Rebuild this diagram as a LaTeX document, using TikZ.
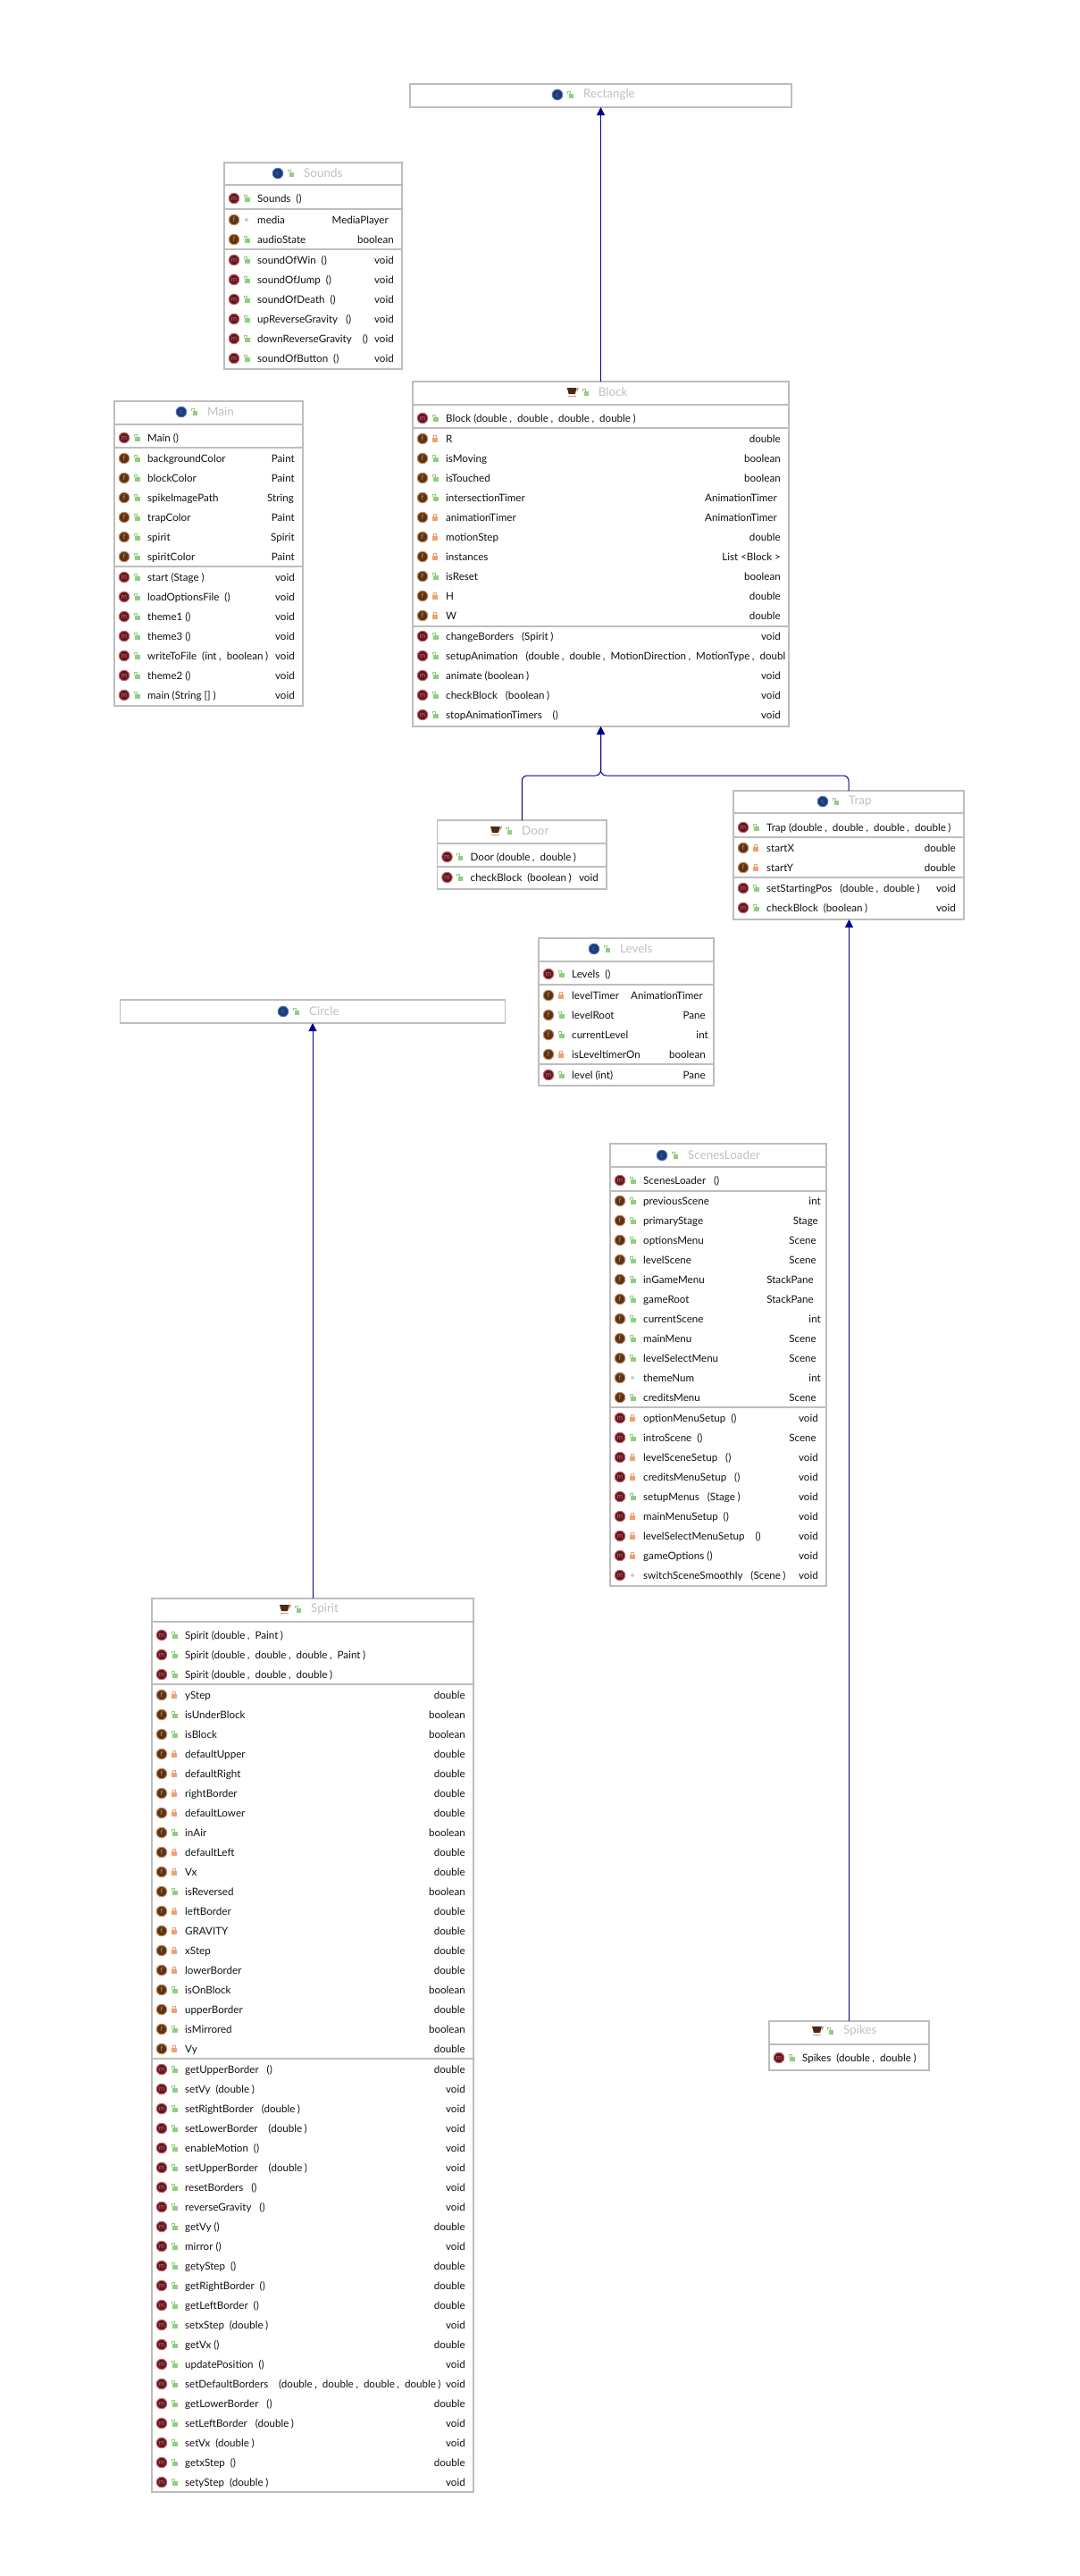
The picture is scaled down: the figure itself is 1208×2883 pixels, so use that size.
\documentclass[tikz,border=0pt]{standalone}
\usepackage{fontspec}
\setmainfont{Lato}
\usetikzlibrary{arrows.meta}
\definecolor{Frame}{HTML}{BDBDBD}
\definecolor{Title}{HTML}{BFBFC6}
\definecolor{Ink}{HTML}{111111}
\definecolor{Navy}{HTML}{000090}
\definecolor{MethodFill}{HTML}{5A1A22}
\definecolor{MethodRim}{HTML}{D0606A}
\definecolor{FieldFill}{HTML}{5A3418}
\definecolor{FieldRim}{HTML}{C98C58}
\definecolor{ClassFill}{HTML}{1C3A78}
\definecolor{ClassRim}{HTML}{4F74B8}
\definecolor{LockGreen}{HTML}{8FCF80}
\definecolor{LockOrange}{HTML}{F2A070}
\definecolor{CupBrown}{HTML}{4A2A14}
\definecolor{CupSaucer}{HTML}{E09060}
\tikzset{
  classbox/.style={draw=Frame,fill=white,line width=1.5pt,inner sep=0pt,outer sep=0pt,anchor=north west},
  sepline/.style={draw=Frame,line width=1.5pt},
  flow/.style={-{Triangle[length=9pt,width=9pt]},draw=Navy,line width=1pt,rounded corners=6pt},
  titletext/.style={text=Title,font=\fontsize{13.4}{16}\selectfont,anchor=west,inner sep=0pt},
  nametext/.style={text=Ink,font=\fontsize{11.6}{14}\selectfont,anchor=base west,inner sep=0pt},
  typetext/.style={text=Ink,font=\fontsize{11.6}{14}\selectfont,anchor=base east,inner sep=0pt},
  iconbase/.style={circle,line width=1pt,minimum size=11.5pt,inner sep=0pt,font=\fontsize{8}{8}\selectfont},
  m/.style={iconbase,draw=MethodRim,fill=MethodFill,text=MethodRim},
  f/.style={iconbase,draw=FieldRim,fill=FieldFill,text=FieldRim},
  c/.style={iconbase,draw=ClassRim,fill=ClassFill,text=ClassRim},
  pub/.pic={
    \fill[LockGreen] (-1.6,-.6) rectangle (3.6,3.6);
    \draw[LockGreen,line width=1pt] (-2.8,-1) -- (-2.8,-3.6) -- (.4,-3.6) -- (.4,-.5);
  },
  priv/.pic={
    \fill[LockOrange] (-2.8,-.6) rectangle (2.8,3.6);
    \draw[LockOrange,line width=1pt] (-1.5,-.5) -- (-1.5,-3.4) -- (1.5,-3.4) -- (1.5,-.5);
  },
  pack/.pic={
    \draw[Frame,line width=.8pt] (0,0) circle (1.5pt);
  },
  cup/.pic={
    \fill[CupBrown] (-6,-5) -- (5,-5) -- (3,2) -- (-4,2) -- cycle;
    \draw[CupSaucer,line width=1pt] (4.5,-4.5) -- (6.5,-4.5) -- (5,-1);
    \fill[CupSaucer] (-5,3.6) rectangle (4,5);
  }
}
% gap around the commas of an argument list
\newcommand{\argsep}{\kern2.5pt,\kern6pt}
\newcommand{\argend}{\kern2.5pt)}
% one class: frame and compartment rules
\newcommand{\classframe}[6]{
  \node[classbox,minimum width=#4pt-#2pt,minimum height=#5pt-#3pt] (#1) at (#2,#3) {};
  \foreach \sy in {#6} \draw[sepline] (#2,\sy) -- (#4,\sy);
}
% class title
\newcommand{\classhead}[5]{
  \ifx c#3\node[c] (#1icon) at (#2,#4) {c};\else\pic at (#2,#4) {cup};\fi
  \pic at (#2+14.5,#4) {pub};
  \node[titletext] (#1title) at (#2+29,#4) {#5};
}
% rows of a compartment, 22 apart
\newcommand{\memberrows}[5]{
  \foreach \kind/\vis/\label/\type [count=\k from 0] in {#5} {
    \node[\kind] (#1i\k) at (#2+11,#4+22*\k) {\kind};
    \pic at (#2+25,#4+22*\k) {\vis};
    \node[nametext] (#1n\k) at (#2+37,#4+22*\k+4.4) {\label};
    \ifx\type\empty\else
      \node[typetext] (#1t\k) at (#3-9,#4+22*\k+4.4) {\type};
    \fi
  }
}
\begin{document}
\begin{tikzpicture}[x=1pt,y=-1pt]
  \useasboundingbox (0,0) rectangle (1208,2883);
  % Rectangle and Circle
  \classframe{rectangle}{459}{94}{886}{120}{}
  \classhead{rectangle}{624}{c}{106}{Rectangle}
  \classframe{circle}{134.5}{1119}{565.5}{1145}{}
  \classhead{circle}{317}{c}{1132}{Circle}
  % Sounds
  \classframe{sounds}{251}{182}{450}{413}{207,234,279}
  \classhead{sounds}{311}{c}{194}{Sounds}
  \memberrows{soundsc}{251}{450}{222}{m/pub/{Sounds~~()}/{}}
  \memberrows{soundsf}{251}{450}{246}{f/pack/media/{MediaPlayer\kern6pt},f/pub/audioState/boolean}
  \memberrows{soundsm}{251}{450}{291}{
    m/pub/{soundOfWin~~()}/void,m/pub/{soundOfJump~~()}/void,m/pub/{soundOfDeath~~()}/void,
    m/pub/{upReverseGravity~~~()}/void,m/pub/{downReverseGravity~~~~()}/void,m/pub/{soundOfButton~~()}/void}
  % Main
  \classframe{main}{128}{449}{339}{790}{475,501,634}
  \classhead{main}{203}{c}{461}{Main}
  \memberrows{mainc}{128}{339}{490}{m/pub/{Main ()}/{}}
  \memberrows{mainf}{128}{339}{513}{
    f/pub/backgroundColor/Paint,f/pub/blockColor/Paint,f/pub/spikeImagePath/{String\kern1pt},
    f/pub/trapColor/Paint,f/pub/spirit/Spirit,f/pub/spiritColor/Paint}
  \memberrows{mainm}{128}{339}{646}{
    m/pub/{start (Stage )}/void,m/pub/{loadOptionsFile~~()}/void,m/pub/{theme1 ()}/void,m/pub/{theme3 ()}/void,
    m/pub/{writeToFile~~(int\argsep boolean\argend}/void,m/pub/{theme2 ()}/void,m/pub/{main (String [] )}/void}
  % Block
  \classframe{block}{462}{427}{883}{813}{453,479,701}
  \classhead{block}{640.7}{j}{439}{Block}
  \memberrows{blockc}{462}{883}{468}{m/pub/{Block (double\argsep double\argsep double\argsep double\argend}/{}}
  \memberrows{blockf}{462}{883}{491}{
    f/priv/R/double,f/pub/isMoving/boolean,f/pub/isTouched/boolean,
    f/pub/intersectionTimer/{AnimationTimer\kern4pt},f/priv/animationTimer/{AnimationTimer\kern4pt},
    f/priv/motionStep/double,f/priv/instances/{List <Block >},f/pub/isReset/boolean,f/priv/H/double,f/priv/W/double}
  \memberrows{blockm}{462}{883}{712}{
    m/pub/{changeBorders~~~(Spirit\argend}/void,
    m/pub/{setupAnimation~~~(double\argsep double\argsep MotionDirection\argsep MotionType\argsep doubl}/{},
    m/pub/{animate (boolean\argend}/void,m/pub/{checkBlock~~~(boolean\argend}/void,m/pub/{stopAnimationTimers~~~~()}/void}
  % Door and Trap
  \classframe{door}{489.5}{918}{679}{995}{944,970}
  \classhead{door}{555}{j}{930}{Door}
  \memberrows{doorc}{489.5}{679}{959}{m/pub/{Door (double\argsep double\argend}/{}}
  \memberrows{doorm}{489.5}{679}{982}{m/pub/{checkBlock~~(boolean\argend}/void}
  \classframe{trap}{821}{885}{1079}{1029}{910,937,982}
  \classhead{trap}{921}{c}{897}{Trap}
  \memberrows{trapc}{821}{1079}{926}{m/pub/{Trap (double\argsep double\argsep double\argsep double\argend}/{}}
  \memberrows{trapf}{821}{1079}{949}{f/priv/startX/double,f/priv/startY/double}
  \memberrows{trapm}{821}{1079}{994}{m/pub/{setStartingPos~~~(double\argsep double\argend}/void,m/pub/{checkBlock~~(boolean\argend}/void}
  % Levels
  \classframe{levels}{603}{1050}{799}{1215}{1076,1102,1191}
  \classhead{levels}{665}{c}{1062}{Levels}
  \memberrows{levelsc}{603}{799}{1090}{m/pub/{Levels ~()}/{}}
  \memberrows{levelsf}{603}{799}{1114}{
    f/priv/levelTimer/{AnimationTimer\kern3pt},f/pub/levelRoot/Pane,f/pub/currentLevel/{int\kern-3pt},f/priv/isLeveltimerOn/boolean}
  \memberrows{levelsm}{603}{799}{1203}{m/pub/{level (int)}/Pane}
  % ScenesLoader
  \classframe{scenes}{683}{1280}{925}{1775}{1306,1333,1575}
  \classhead{scenes}{741}{c}{1293}{ScenesLoader}
  \memberrows{scenesc}{683}{925}{1321}{m/pub/{ScenesLoader~~~()}/{}}
  \memberrows{scenesf}{683}{925}{1344}{
    f/pub/previousScene/{int\kern-3pt},f/pub/primaryStage/Stage,f/pub/optionsMenu/{Scene\kern2pt},f/pub/levelScene/{Scene\kern2pt},
    f/pub/inGameMenu/{StackPane\kern5pt},f/pub/gameRoot/{StackPane\kern5pt},f/pub/currentScene/{int\kern-3pt},
    f/pub/mainMenu/{Scene\kern2pt},f/pub/levelSelectMenu/{Scene\kern2pt},f/pack/themeNum/{int\kern-3pt},f/pub/creditsMenu/{Scene\kern2pt}}
  \memberrows{scenesm}{683}{925}{1587}{
    m/priv/{optionMenuSetup~~()}/void,m/pub/{introScene~~()}/{Scene\kern2pt},m/priv/{levelSceneSetup~~~()}/void,
    m/priv/{creditsMenuSetup~~~()}/void,m/pub/{setupMenus~~~(Stage\argend}/void,m/priv/{mainMenuSetup~~()}/void,
    m/priv/{levelSelectMenuSetup~~~~()}/void,m/priv/{gameOptions~()}/void,m/pack/{switchSceneSmoothly~~~(Scene\argend}/void}
  % Spirit
  \classframe{spirit}{170}{1789}{530}{2789}{1815,1885,2304}
  \classhead{spirit}{319}{j}{1801}{Spirit}
  \memberrows{spiritc}{170}{530}{1830}{
    m/pub/{Spirit (double\argsep Paint\argend}/{},m/pub/{Spirit (double\argsep double\argsep double\argsep Paint\argend}/{},m/pub/{Spirit (double\argsep double\argsep double\argend}/{}}
  \memberrows{spiritf}{170}{530}{1897}{
    f/priv/yStep/double,f/pub/isUnderBlock/boolean,f/pub/isBlock/boolean,f/priv/defaultUpper/double,f/priv/defaultRight/double,
    f/priv/rightBorder/double,f/priv/defaultLower/double,f/pub/inAir/boolean,f/priv/defaultLeft/double,f/priv/Vx/double,
    f/pub/isReversed/boolean,f/priv/leftBorder/double,f/priv/GRAVITY/double,f/priv/xStep/double,f/priv/lowerBorder/double,
    f/pub/isOnBlock/boolean,f/priv/upperBorder/double,f/pub/isMirrored/boolean,f/priv/Vy/double}
  \memberrows{spiritm}{170}{530}{2316}{
    m/pub/{getUpperBorder~~~()}/double,m/pub/{setVy~~(double\argend}/void,m/pub/{setRightBorder~~~(double\argend}/void,
    m/pub/{setLowerBorder~~~~(double\argend}/void,m/pub/{enableMotion~~()}/void,m/pub/{setUpperBorder~~~~(double\argend}/void,
    m/pub/{resetBorders~~~()}/void,m/pub/{reverseGravity~~~()}/void,m/pub/{getVy ()}/double,m/pub/{mirror ()}/void,
    m/pub/{getyStep~~()}/double,m/pub/{getRightBorder~~()}/double,m/pub/{getLeftBorder~~()}/double,
    m/pub/{setxStep~~(double\argend}/void,m/pub/{getVx ()}/double,m/pub/{updatePosition~~()}/void,
    m/pub/{setDefaultBorders~~~~(double\argsep double\argsep double\argsep double\argend}/void,m/pub/{getLowerBorder~~~()}/double,
    m/pub/{setLeftBorder~~~(double\argend}/void,m/pub/{setVx~~(double\argend}/void,m/pub/{getxStep~~()}/double,m/pub/{setyStep~~(double\argend}/void}
  % Spikes
  \classframe{spikes}{861}{2262}{1040}{2317}{2288}
  \classhead{spikes}{915}{j}{2273}{Spikes}
  \memberrows{spikesc}{861}{1040}{2303}{m/pub/{Spikes~~(double\argsep double\argend}/{}}
  % inheritance arrows
  \coordinate (branch) at (block.south |- 0,868);
  \draw[flow] (block.north) -- (rectangle.south);
  \draw[flow] (door.north) |- (branch) -- (block.south);
  \draw[flow] (trap.north) |- (branch) -- (block.south);
  \draw[flow] (spikes.north) -- (spikes.north |- trap.south);
  \draw[flow] (spirit.north) -- (circle.south);
\end{tikzpicture}
\end{document}
